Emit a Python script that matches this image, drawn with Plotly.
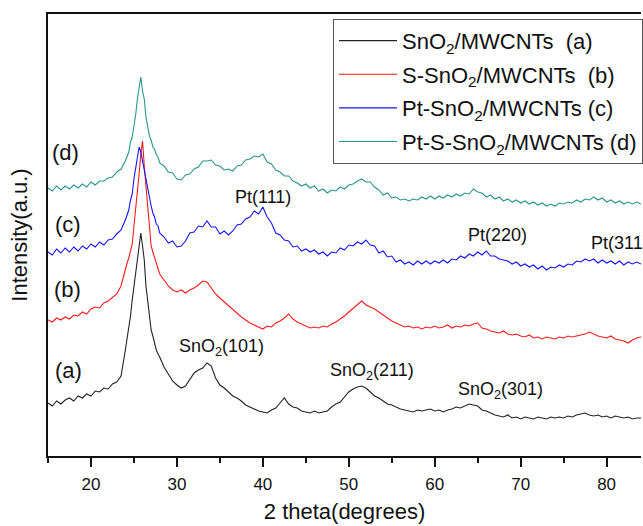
import plotly.graph_objects as go

# 2-theta sampling points (degrees)
two_theta = [15, 15.5, 16, 16.5, 17, 17.5, 18, 18.5, 19, 19.5, 20, 20.5, 21, 21.5, 22, 22.5, 23, 23.5,
             24, 24.2, 24.4, 24.6, 24.8, 25, 25.2, 25.4, 25.6, 25.8, 26, 26.2, 26.4, 26.6, 26.8, 27, 27.2, 27.4, 27.6, 27.8, 28,
             28.5, 29, 29.5, 30, 30.5, 31, 31.5, 32, 32.5, 33,
             33.5, 34, 34.5, 35, 35.5, 36, 36.5, 37, 37.5, 38,
             38.5, 39, 39.5, 40, 40.5, 41, 41.5, 42, 42.5, 43,
             43.5, 44, 44.5, 45, 45.5, 46, 46.5, 47, 47.5, 48,
             48.5, 49, 49.5, 50, 50.5, 51, 51.5, 52, 52.5, 53,
             53.5, 54, 54.5, 55, 55.5, 56, 56.5, 57, 57.5, 58,
             58.5, 59, 59.5, 60, 60.5, 61, 61.5, 62, 62.5, 63,
             63.5, 64, 64.5, 65, 65.5, 66, 66.5, 67, 67.5, 68,
             68.5, 69, 69.5, 70, 70.5, 71, 71.5, 72, 72.5, 73,
             73.5, 74, 74.5, 75, 75.5, 76, 76.5, 77, 77.5, 78,
             78.5, 79, 79.5, 80, 80.5, 81, 81.5, 82, 82.5, 83,
             83.5, 84]

# Intensities (a.u., vertically offset patterns as in the figure)
sno2_mwcnts = [55, 52, 57, 54, 58, 60, 57, 62, 60, 64, 62, 67, 66, 70, 69, 74, 76, 82,
               108, 118, 128, 142, 158, 171, 186, 201, 214, 225, 212, 198, 172, 155, 138, 128, 122, 114, 108, 104, 101,
               91, 84, 77, 73, 70, 72, 78, 85, 88, 90,
               95, 92, 80, 73, 70, 66, 62, 60, 57, 53,
               51, 49, 47, 46, 45, 48, 50, 55, 60, 54,
               51, 50, 47, 46, 45, 47, 45, 46, 47, 51,
               54, 56, 61, 66, 69, 71, 72, 70, 66, 62,
               60, 57, 54, 53, 51, 49, 48, 47, 46, 48,
               47, 48, 49, 47, 48, 46, 48, 49, 51, 50,
               52, 54, 53, 52, 48, 47, 45, 43, 42, 41,
               43, 40, 41, 39, 41, 40, 39, 41, 40, 39,
               41, 40, 41, 40, 42, 41, 43, 44, 45, 43,
               42, 43, 41, 42, 40, 42, 41, 40, 41, 39,
               40, 40]

s_sno2_mwcnts = [138, 136, 140, 138, 141, 139, 143, 142, 146, 144, 149, 151, 150, 155, 157, 161, 164, 172,
                 190, 195, 200, 206, 214, 232, 248, 265, 284, 304, 317, 292, 272, 254, 232, 212, 206, 200, 194, 190, 184,
                 178, 172, 168, 166, 168, 165, 168, 170, 173, 177,
                 176, 170, 164, 160, 156, 152, 148, 145, 141, 138,
                 135, 133, 131, 129, 132, 131, 135, 137, 140, 144,
                 139, 136, 134, 132, 130, 131, 130, 132, 131, 134,
                 136, 139, 142, 146, 150, 154, 157, 153, 151, 149,
                 146, 143, 140, 137, 135, 133, 131, 132, 130, 131,
                 129, 131, 130, 132, 130, 131, 133, 130, 132, 131,
                 133, 132, 134, 135, 130, 129, 127, 126, 125, 127,
                 124, 123, 124, 122, 121, 123, 120, 121, 119, 121,
                 120, 119, 121, 120, 122, 121, 122, 123, 124, 126,
                 124, 122, 121, 120, 122, 119, 118, 117, 115, 118,
                 120, 121]

pt_sno2_mwcnts = [206, 203, 209, 205, 210, 206, 211, 207, 212, 209, 214, 211, 216, 213, 218, 219, 224, 228,
                  238, 243, 248, 258, 264, 279, 290, 303, 311, 306, 297, 289, 277, 271, 259, 252, 245, 241, 234, 232, 225,
                  221, 215, 217, 211, 212, 217, 225, 226, 232, 231,
                  237, 231, 231, 224, 227, 223, 227, 233, 234, 239,
                  241, 247, 244, 251, 241, 235, 225, 223, 218, 217,
                  211, 212, 207, 209, 206, 208, 204, 206, 202, 206,
                  205, 210, 208, 213, 212, 216, 214, 218, 213, 212,
                  205, 207, 201, 202, 196, 198, 194, 196, 193, 197,
                  194, 197, 194, 197, 195, 198, 195, 199, 198, 202,
                  200, 204, 202, 206, 203, 207, 202, 202, 199, 198,
                  197, 194, 196, 192, 194, 191, 193, 189, 192, 188,
                  191, 190, 193, 191, 194, 193, 197, 196, 199, 197,
                  199, 195, 198, 195, 197, 194, 197, 193, 196, 194,
                  196, 194]

pt_s_sno2_mwcnts = [270, 267, 272, 268, 272, 269, 273, 270, 274, 271, 276, 273, 277, 277, 280, 281, 286, 289,
                    297, 302, 306, 316, 321, 332, 343, 359, 371, 381, 367, 359, 341, 332, 322, 318, 311, 309, 303, 301, 295,
                    292, 286, 285, 279, 278, 283, 284, 289, 291, 297,
                    297, 298, 293, 292, 288, 289, 287, 292, 293, 298,
                    299, 302, 301, 304, 296, 294, 288, 286, 282, 282,
                    277, 275, 272, 274, 270, 272, 267, 269, 265, 268,
                    267, 271, 269, 273, 274, 277, 279, 276, 276, 271,
                    268, 263, 265, 260, 261, 258, 259, 257, 259, 258,
                    261, 259, 262, 259, 262, 260, 263, 261, 264, 262,
                    265, 264, 269, 266, 265, 261, 263, 259, 261, 257,
                    259, 256, 258, 255, 257, 254, 256, 253, 255, 252,
                    254, 252, 255, 254, 256, 255, 258, 256, 259, 258,
                    261, 258, 260, 256, 258, 255, 257, 254, 256, 254,
                    256, 254]

series_names = ["SnO<sub>2</sub>/MWCNTs\u00a0 (a)", "S-SnO<sub>2</sub>/MWCNTs\u00a0 (b)",
                "Pt-SnO<sub>2</sub>/MWCNTs (c)", "Pt-S-SnO<sub>2</sub>/MWCNTs (d)"]
series_values = [sno2_mwcnts, s_sno2_mwcnts, pt_sno2_mwcnts, pt_s_sno2_mwcnts]
series_colors = ["#222222", "#ff1a1a", "#1414ff", "#2a968c"]

# Curve labels and peak labels: (text, x, y, xanchor)
curve_labels = [("(a)", 17.4, 88), ("(b)", 17.3, 169), ("(c)", 17.3, 234), ("(d)", 17.0, 306)]
peak_labels = [("SnO<sub>2</sub>(101)", 35.2, 111, "center"),
               ("SnO<sub>2</sub>(211)", 52.7, 87, "center"),
               ("SnO<sub>2</sub>(301)", 67.6, 68, "center"),
               ("Pt(111)", 40.0, 261, "center"),
               ("Pt(220)", 67.3, 223, "center"),
               ("Pt(311)", 78.0, 215, "left")]

x_tick_vals = [20, 30, 40, 50, 60, 70, 80]

FONT = "Liberation Sans, Arial, sans-serif"

fig = go.Figure()
for i, (name, vals, col) in enumerate(zip(series_names, series_values, series_colors)):
    fig.add_trace(go.Scatter(x=two_theta, y=vals, mode="lines", name=name, legendgroup="g%d" % i,
                             line=dict(color=col, width=1.1)))

for txt, x, y in curve_labels:
    fig.add_annotation(x=x, y=y, text=txt, showarrow=False, xanchor="center", yanchor="middle",
                       font=dict(size=22, color="#111", family=FONT))
for txt, x, y, xa in peak_labels:
    fig.add_annotation(x=x, y=y, text=txt, showarrow=False, xanchor=xa, yanchor="middle",
                       font=dict(size=18, color="#111", family=FONT))

fig.update_layout(
    width=643, height=526,
    margin=dict(l=47.5, r=0, t=14, b=70),
    paper_bgcolor="white", plot_bgcolor="white",
    font=dict(family=FONT, color="#111"),
    showlegend=True,
    legend=dict(x=0.481, y=0.989, xanchor="left", yanchor="top",
                bgcolor="white", bordercolor="#555", borderwidth=1,
                font=dict(size=22, family=FONT, color="#111"),
                itemwidth=58, tracegroupgap=2),
    xaxis=dict(range=[15, 84], showline=True, mirror=True, linecolor="#111", linewidth=2,
               showgrid=False, zeroline=False, automargin=False,
               tickmode="array", tickvals=x_tick_vals, ticks="outside", ticklen=9, tickwidth=1.5,
               tickcolor="#111", tickfont=dict(size=17, family=FONT, color="#111"),
               ticklabelstandoff=3,
               minor=dict(dtick=5, tick0=0, ticks="outside", ticklen=5, tickwidth=1.5, tickcolor="#111"),
               title=dict(text="2 theta(degrees)", font=dict(size=22, family=FONT, color="#111"), standoff=10)),
    yaxis=dict(range=[2, 444], showline=True, mirror=False, linecolor="#111", linewidth=2,
               showgrid=False, zeroline=False, showticklabels=False, ticks="", automargin=False,
               title=dict(text="Intensity(a.u.)", font=dict(size=22, family=FONT, color="#111"), standoff=12)),
)

fig.write_html("out.html", config={"displayModeBar": False},
               post_script="document.body.style.margin='0';document.body.style.overflow='hidden';")
